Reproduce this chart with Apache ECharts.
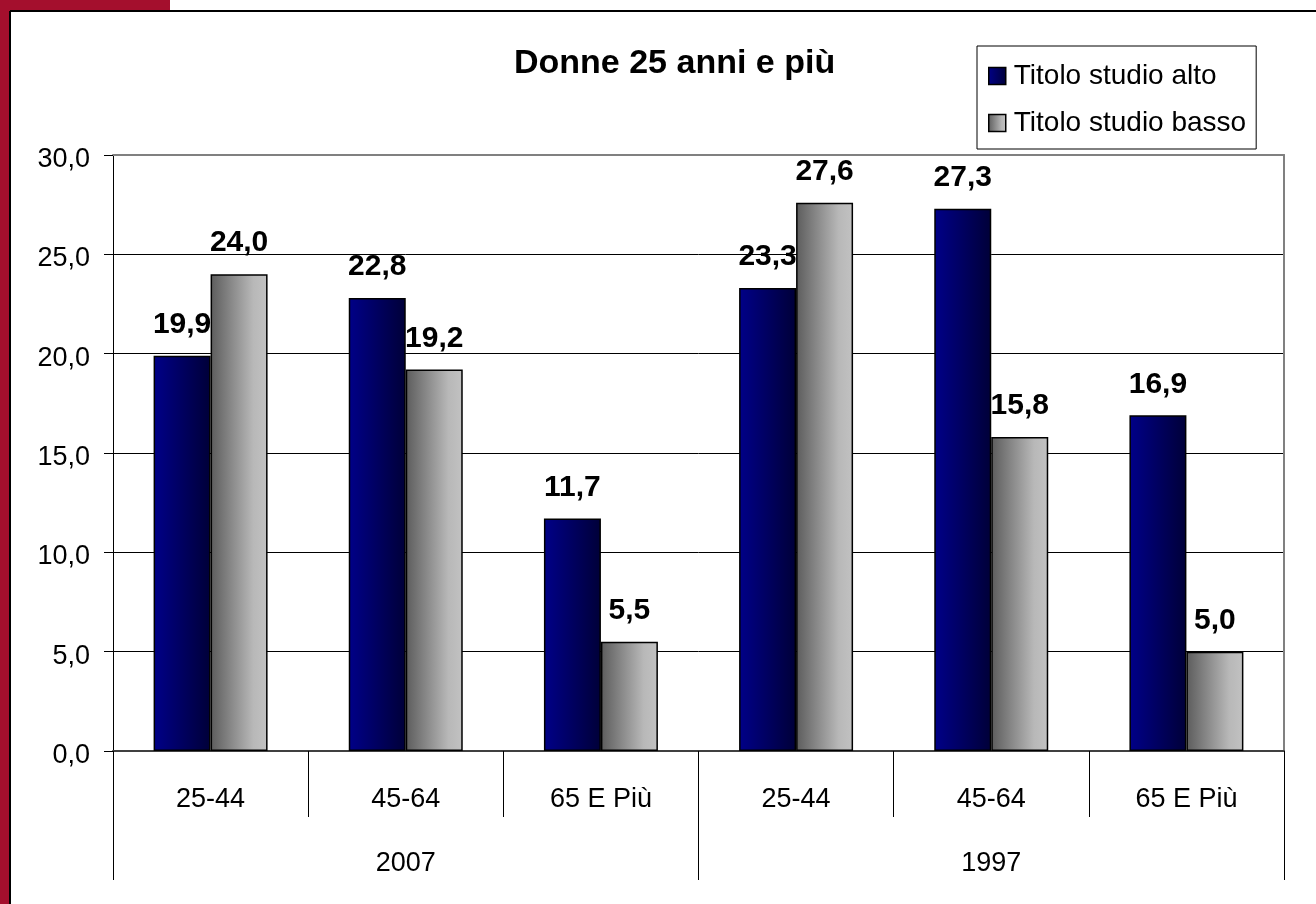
<!DOCTYPE html>
<html>
<head>
<meta charset="utf-8">
<title>Donne 25 anni e più</title>
<script src="https://cdn.jsdelivr.net/npm/echarts@6/dist/echarts.min.js"></script>
<style>
  html, body { margin: 0; padding: 0; background: #ffffff; }
  #chart { width: 1316px; height: 904px; }
</style>
</head>
<body>
<div id="chart"></div>
<script>
// Age bands (inner axis level) and survey years (outer axis level)
const ageBands = ['25-44', '45-64', '65 E Più', '25-44', '45-64', '65 E Più'];
const years = ['2007', '1997'];

// Percent values, 2007 groups first then 1997
const titoloAlto = [19.9, 22.8, 11.7, 23.3, 27.3, 16.9];
const titoloBasso = [24.0, 19.2, 5.5, 27.6, 15.8, 5.0];

const seriesNames = ['Titolo studio alto', 'Titolo studio basso'];
const yTicks = { min: 0, max: 30, interval: 5 };

const FONT = '"Liberation Sans", Arial, sans-serif';
const fmt = v => v.toFixed(1).replace('.', ',');

const navyFill = new echarts.graphic.LinearGradient(0, 0, 1, 0, [
  { offset: 0, color: '#000088' },
  { offset: 1, color: '#000038' }
]);
const greyFill = new echarts.graphic.LinearGradient(0, 0, 1, 0, [
  { offset: 0, color: '#5c5c5c' },
  { offset: 0.75, color: '#b8b8b8' },
  { offset: 1, color: '#c2c2c2' }
]);

const barLabel = {
  show: true,
  position: 'top',
  distance: 16,
  fontFamily: FONT,
  fontSize: 30,
  fontWeight: 'bold',
  color: '#000',
  formatter: p => fmt(p.value)
};

const chart = echarts.init(document.getElementById('chart'), null, { renderer: 'canvas' });

chart.setOption({
  animation: false,
  backgroundColor: '#ffffff',
  graphic: [
    // slide decoration: red strips and black frame
    { type: 'rect', shape: { x: 0, y: 0, width: 10, height: 904 }, style: { fill: '#a40f2d' }, z: 10 },
    { type: 'rect', shape: { x: 0, y: 0, width: 170, height: 11 }, style: { fill: '#a40f2d' }, z: 10 },
    { type: 'line', shape: { x1: 10, y1: 11, x2: 1316, y2: 11 }, style: { stroke: '#000', lineWidth: 2 }, z: 10 },
    { type: 'line', shape: { x1: 10, y1: 11, x2: 10, y2: 904 }, style: { stroke: '#000', lineWidth: 2 }, z: 10 }
  ],
  title: {
    text: 'Donne 25 anni e più',
    left: 514,
    top: 47,
    padding: 0,
    textStyle: { fontFamily: FONT, fontSize: 34, fontWeight: 'bold', color: '#000' }
  },
  legend: {
    orient: 'vertical',
    left: 977,
    top: 46,
    padding: [16, 10, 12, 11],
    borderColor: '#000',
    borderWidth: 1,
    icon: 'rect',
    itemWidth: 17,
    itemHeight: 17,
    itemGap: 19,
    data: seriesNames,
    itemStyle: { borderColor: '#000', borderWidth: 1.5 },
    textStyle: { fontFamily: FONT, fontSize: 28, color: '#000', padding: [0, 0, 0, 3] }
  },
  grid: { left: 113, right: 32, top: 155, bottom: 153 },
  xAxis: [
    {
      type: 'category',
      data: ageBands,
      position: 'bottom',
      axisLine: { show: true, lineStyle: { color: '#404040', width: 2 } },
      axisTick: { show: true, length: 66, interval: 0, lineStyle: { color: '#000', width: 1 } },
      axisLabel: { interval: 0, margin: 35, fontFamily: FONT, fontSize: 27, color: '#000' },
      splitLine: { show: false }
    },
    {
      type: 'category',
      data: years,
      position: 'bottom',
      axisLine: { show: false },
      axisTick: { show: true, length: 129, interval: 0, lineStyle: { color: '#000', width: 1 } },
      axisLabel: { interval: 0, margin: 99, fontFamily: FONT, fontSize: 27, color: '#000' },
      splitLine: { show: false }
    },
    {
      // top edge of the plot area
      type: 'category',
      data: years,
      position: 'top',
      axisLine: { show: true, lineStyle: { color: '#808080', width: 2 } },
      axisTick: { show: false },
      axisLabel: { show: false },
      splitLine: { show: false }
    }
  ],
  yAxis: [
    {
      type: 'value',
      min: yTicks.min,
      max: yTicks.max,
      interval: yTicks.interval,
      axisLine: { show: true, lineStyle: { color: '#000', width: 1 } },
      axisTick: { show: true, length: 9, lineStyle: { color: '#000', width: 1 } },
      axisLabel: {
        margin: 23, fontFamily: FONT, fontSize: 27, color: '#000',
        verticalAlign: 'top',
        lineHeight: 9,
        formatter: v => fmt(v)
      },
      splitLine: {
        show: true,
        lineStyle: { color: ['#000', '#000', '#000', '#000', '#000', '#000', '#808080'], width: 1 }
      }
    },
    {
      // right edge of the plot area
      type: 'value',
      position: 'right',
      min: yTicks.min,
      max: yTicks.max,
      interval: yTicks.interval,
      axisLine: { show: true, lineStyle: { color: '#808080', width: 2 } },
      axisTick: { show: false },
      axisLabel: { show: false },
      splitLine: { show: false }
    }
  ],
  series: [
    {
      name: seriesNames[0],
      type: 'bar',
      xAxisIndex: 0,
      yAxisIndex: 0,
      data: titoloAlto,
      barWidth: '29.2%',
      barGap: '0%',
      itemStyle: { color: navyFill, borderColor: '#000', borderWidth: 1.5 },
      label: barLabel
    },
    {
      name: seriesNames[1],
      type: 'bar',
      xAxisIndex: 0,
      yAxisIndex: 0,
      data: titoloBasso,
      barWidth: '29.2%',
      barGap: '0%',
      itemStyle: { color: greyFill, borderColor: '#000', borderWidth: 1.5 },
      label: barLabel
    }
  ]
});
</script>
</body>
</html>
